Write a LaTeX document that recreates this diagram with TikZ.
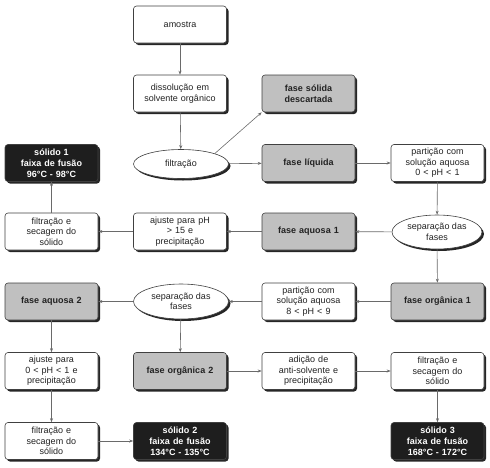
\documentclass[tikz,border=0pt]{standalone}
\usepackage{fontspec}
\setmainfont{Liberation Sans}
\usetikzlibrary{shapes.geometric,shadows,arrows.meta}
\definecolor{boxgray}{HTML}{C0C0C0}
\definecolor{boxblack}{HTML}{1E1E1E}
\definecolor{linegray}{HTML}{6A6A6A}
\definecolor{txt}{HTML}{222222}
\begin{document}
\begin{tikzpicture}[x=1pt,y=-1pt,
  shad/.style={drop shadow={shadow xshift=2pt, shadow yshift=-2pt, fill=black!85, opacity=1}},
  base/.style={shad, draw=black!75, line width=0.6pt, rounded corners=3pt,
    minimum width=93pt, minimum height=37pt, text width=88pt, align=center,
    inner sep=1pt, text=txt, font=\fontsize{9}{10.5}\selectfont},
  wbox/.style={base, fill=white},
  gbox/.style={base, fill=boxgray, font=\fontsize{9}{10.5}\selectfont\bfseries},
  kbox/.style={base, fill=boxblack, text=white, font=\fontsize{9}{11}\selectfont\bfseries},
  oval/.style={shad, ellipse, draw=black!75, fill=white, line width=0.6pt, align=center,
    inner sep=0pt, text=txt, font=\fontsize{9}{10.5}\selectfont},
  arr/.style={draw=linegray, line width=0.6pt, -{Stealth[length=4pt,width=3pt]}}
]
\useasboundingbox (0,0) rectangle (490,467);

\node[wbox] (am) at (180,24.5) {amostra};
\node[wbox] (dis) at (180,93.5) {dissolução em\\solvente orgânico};
\node[gbox] (fs) at (308.5,93.5) {fase sólida\\descartada};
\node[kbox] (s1) at (51.5,163) {sólido 1\\faixa de fusão\\96°C - 98°C};
\node[oval, minimum width=95pt, minimum height=29pt] (filt) at (181,164) {filtração};
\node[gbox] (fl) at (308.5,163) {fase líquida};
\node[wbox] (p1) at (437.5,163) {partição com\\solução aquosa\\0 < pH < 1};
\node[wbox] (fsec1) at (51.5,231.5) {filtração e\\secagem do\\sólido};
\node[wbox] (aj1) at (180,231.5) {ajuste para pH\\> 15 e\\precipitação};
\node[gbox] (fa1) at (308.5,231.5) {fase aquosa 1};
\node[oval, minimum width=90pt, minimum height=34pt] (sep1) at (437,232) {separação das\\fases};
\node[gbox] (fa2) at (51.5,301.5) {fase aquosa 2};
\node[oval, minimum width=95pt, minimum height=35pt] (sep2) at (181,301.5) {separação das\\fases};
\node[wbox] (p2) at (308.5,301.5) {partição com\\solução aquosa\\8 < pH < 9};
\node[gbox] (fo1) at (437.5,301.5) {fase orgânica 1};
\node[wbox] (aj2) at (51.5,371) {ajuste para\\0 < pH < 1 e\\precipitação};
\node[gbox] (fo2) at (180,371) {fase orgânica 2};
\node[wbox] (ad) at (308.5,371) {adição de\\anti-solvente e\\precipitação};
\node[wbox] (fsec3) at (437.5,371) {filtração e\\secagem do\\sólido};
\node[wbox] (fsec2) at (51.5,441) {filtração e\\secagem do\\sólido};
\node[kbox] (s2) at (180,441) {sólido 2\\faixa de fusão\\134°C - 135°C};
\node[kbox] (s3) at (437.5,441) {sólido 3\\faixa de fusão\\168°C - 172°C};

\draw[arr] (am) -- (dis);
\draw[arr] (dis) -- (filt);
\draw[arr] (filt.north east) -- (fs.south west);
\draw[arr] (filt) -- (fl);
\draw[arr] (fl) -- (p1);
\draw[arr] (p1) -- (sep1);
\draw[arr] (sep1) -- (fa1);
\draw[arr] (fa1) -- (aj1);
\draw[arr] (aj1) -- (fsec1);
\draw[arr] (fsec1) -- (s1);
\draw[arr] (sep1) -- (fo1);
\draw[arr] (fo1) -- (p2);
\draw[arr] (p2) -- (sep2);
\draw[arr] (sep2) -- (fa2);
\draw[arr] (sep2) -- (fo2);
\draw[arr] (fa2) -- (aj2);
\draw[arr] (aj2) -- (fsec2);
\draw[arr] (fsec2) -- (s2);
\draw[arr] (fo2) -- (ad);
\draw[arr] (ad) -- (fsec3);
\draw[arr] (fsec3) -- (s3);
\end{tikzpicture}
\end{document}
